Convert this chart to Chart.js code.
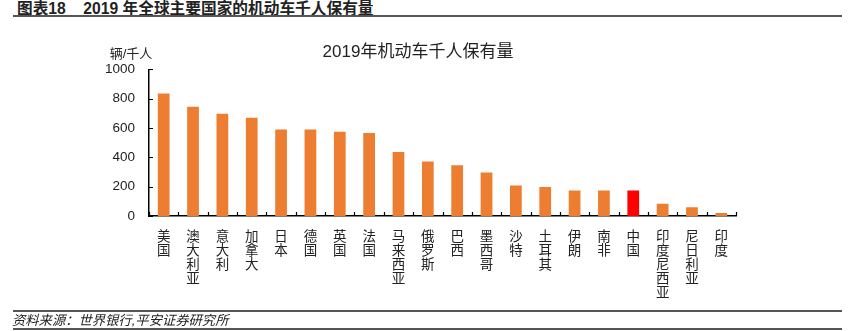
<!DOCTYPE html>
<html>
<head>
<meta charset="utf-8">
<script src="https://cdn.jsdelivr.net/npm/chart.js@4.4.1/dist/chart.umd.min.js"></script>
<style>
    body {
        margin: 0;
        background: #fff;
        width: 853px;
        height: 331px;
        position: relative;
        overflow: hidden;
        font-family: 'Liberation Sans', 'Noto Sans CJK SC', sans-serif;
    }
    #chart {
        position: absolute;
        left: 0;
        top: 0;
    }
    .header {
        position: absolute;
        left: 17px;
        top: -4px;
        font-size: 15.7px;
        font-weight: bold;
        color: #222;
        white-space: pre;
    }
    .rule {
        position: absolute;
        left: 13px;
        width: 829px;
        background: #555;
    }
    .source {
        position: absolute;
        left: 12px;
        top: 310px;
        font-size: 13.3px;
        font-style: italic;
        color: #222;
    }
</style>
</head>
<body>
<div class="header">图表18    2019 年全球主要国家的机动车千人保有量</div>
<div class="rule" style="top:15px;height:2px"></div>
<canvas id="chart" width="853" height="331"></canvas>
<div class="rule" style="top:310px;height:2px"></div>
<div class="source">资料来源：世界银行,平安证券研究所</div>
<div class="rule" style="top:328px;height:1.5px"></div>

<script>
const countries = ['美国', '澳大利亚', '意大利', '加拿大', '日本', '德国', '英国', '法国', '马来西亚', '俄罗斯',
    '巴西', '墨西哥', '沙特', '土耳其', '伊朗', '南非', '中国', '印度尼西亚', '尼日利亚', '印度'];
const vehiclesPer1000 = [836, 746, 698, 671, 590, 590, 574, 567, 437, 371,
    346, 296, 208, 197, 174, 174, 174, 84, 59, 20];
const yTicks = [0, 200, 400, 600, 800, 1000];
const highlightCountry = '中国';

const chartTitle = '2019年机动车千人保有量';
const unitLabel = '辆/千人';

const ctx = document.getElementById('chart');

// ticks drawn inside the plot, plus the unit label above the y axis
const insideTicks = {
    id: 'insideTicks',
    afterDraw(chart) {
        const c = chart.ctx;
        const area = chart.chartArea;
        const x = chart.scales.x;
        const y = chart.scales.y;

        c.save();
        c.strokeStyle = '#000';
        c.lineWidth = 1.2;
        c.beginPath();
        yTicks.forEach(v => {
            const py = Math.round(y.getPixelForValue(v)) + 0.5;
            c.moveTo(area.left, py);
            c.lineTo(area.left + 4, py);
        });
        const step = (x.right - x.left) / countries.length;
        for (let i = 0; i <= countries.length; i++) {
            const px = Math.round(x.getPixelForValue(0) - step / 2 + i * step) + 0.5;
            c.moveTo(px, area.bottom);
            c.lineTo(px, area.bottom - 4);
        }
        c.stroke();

        c.fillStyle = '#222';
        c.font = "13px 'Liberation Sans', 'Noto Sans CJK SC', sans-serif";
        c.textAlign = 'center';
        c.textBaseline = 'middle';
        c.fillText(unitLabel, area.left - 18, 54);
        c.restore();
    }
};

new Chart(ctx, {
    type: 'bar',
    data: {
        labels: countries.map(name => name.split('')),
        datasets: [{
            data: vehiclesPer1000,
            backgroundColor: countries.map(name => name === highlightCountry ? '#FF0000' : '#ED7D31'),
            borderWidth: 0,
            categoryPercentage: 1,
            barPercentage: 0.4
        }]
    },
    options: {
        responsive: false,
        animation: false,
        layout: {
            padding: { left: 100, right: 117, top: 0, bottom: 0 }
        },
        plugins: {
            legend: { display: false },
            tooltip: { enabled: false },
            title: {
                display: true,
                text: chartTitle,
                color: '#222',
                font: { size: 17, family: "'Liberation Sans', 'Noto Sans CJK SC', sans-serif", weight: 'normal', lineHeight: 1.2 },
                padding: { top: 42, bottom: 7 }
            }
        },
        scales: {
            x: {
                grid: { display: false },
                border: { display: true, color: '#000', width: 1.5 },
                ticks: {
                    color: '#222',
                    autoSkip: false,
                    minRotation: 0,
                    maxRotation: 0,
                    padding: 5,
                    font: { size: 13.5, family: "'Noto Sans CJK SC', sans-serif", lineHeight: 1.04 }
                },
                afterFit(scale) {
                    scale.height = 115;
                }
            },
            y: {
                min: 0,
                max: 1000,
                grid: { display: false },
                border: { display: true, color: '#000', width: 1.5 },
                ticks: {
                    stepSize: 200,
                    color: '#222',
                    padding: 6,
                    font: { size: 13.5, family: "'Liberation Sans', sans-serif" },
                    callback: value => String(value)
                },
                afterFit(scale) {
                    scale.width = 49;
                }
            }
        }
    },
    plugins: [insideTicks]
});
</script>
</body>
</html>
